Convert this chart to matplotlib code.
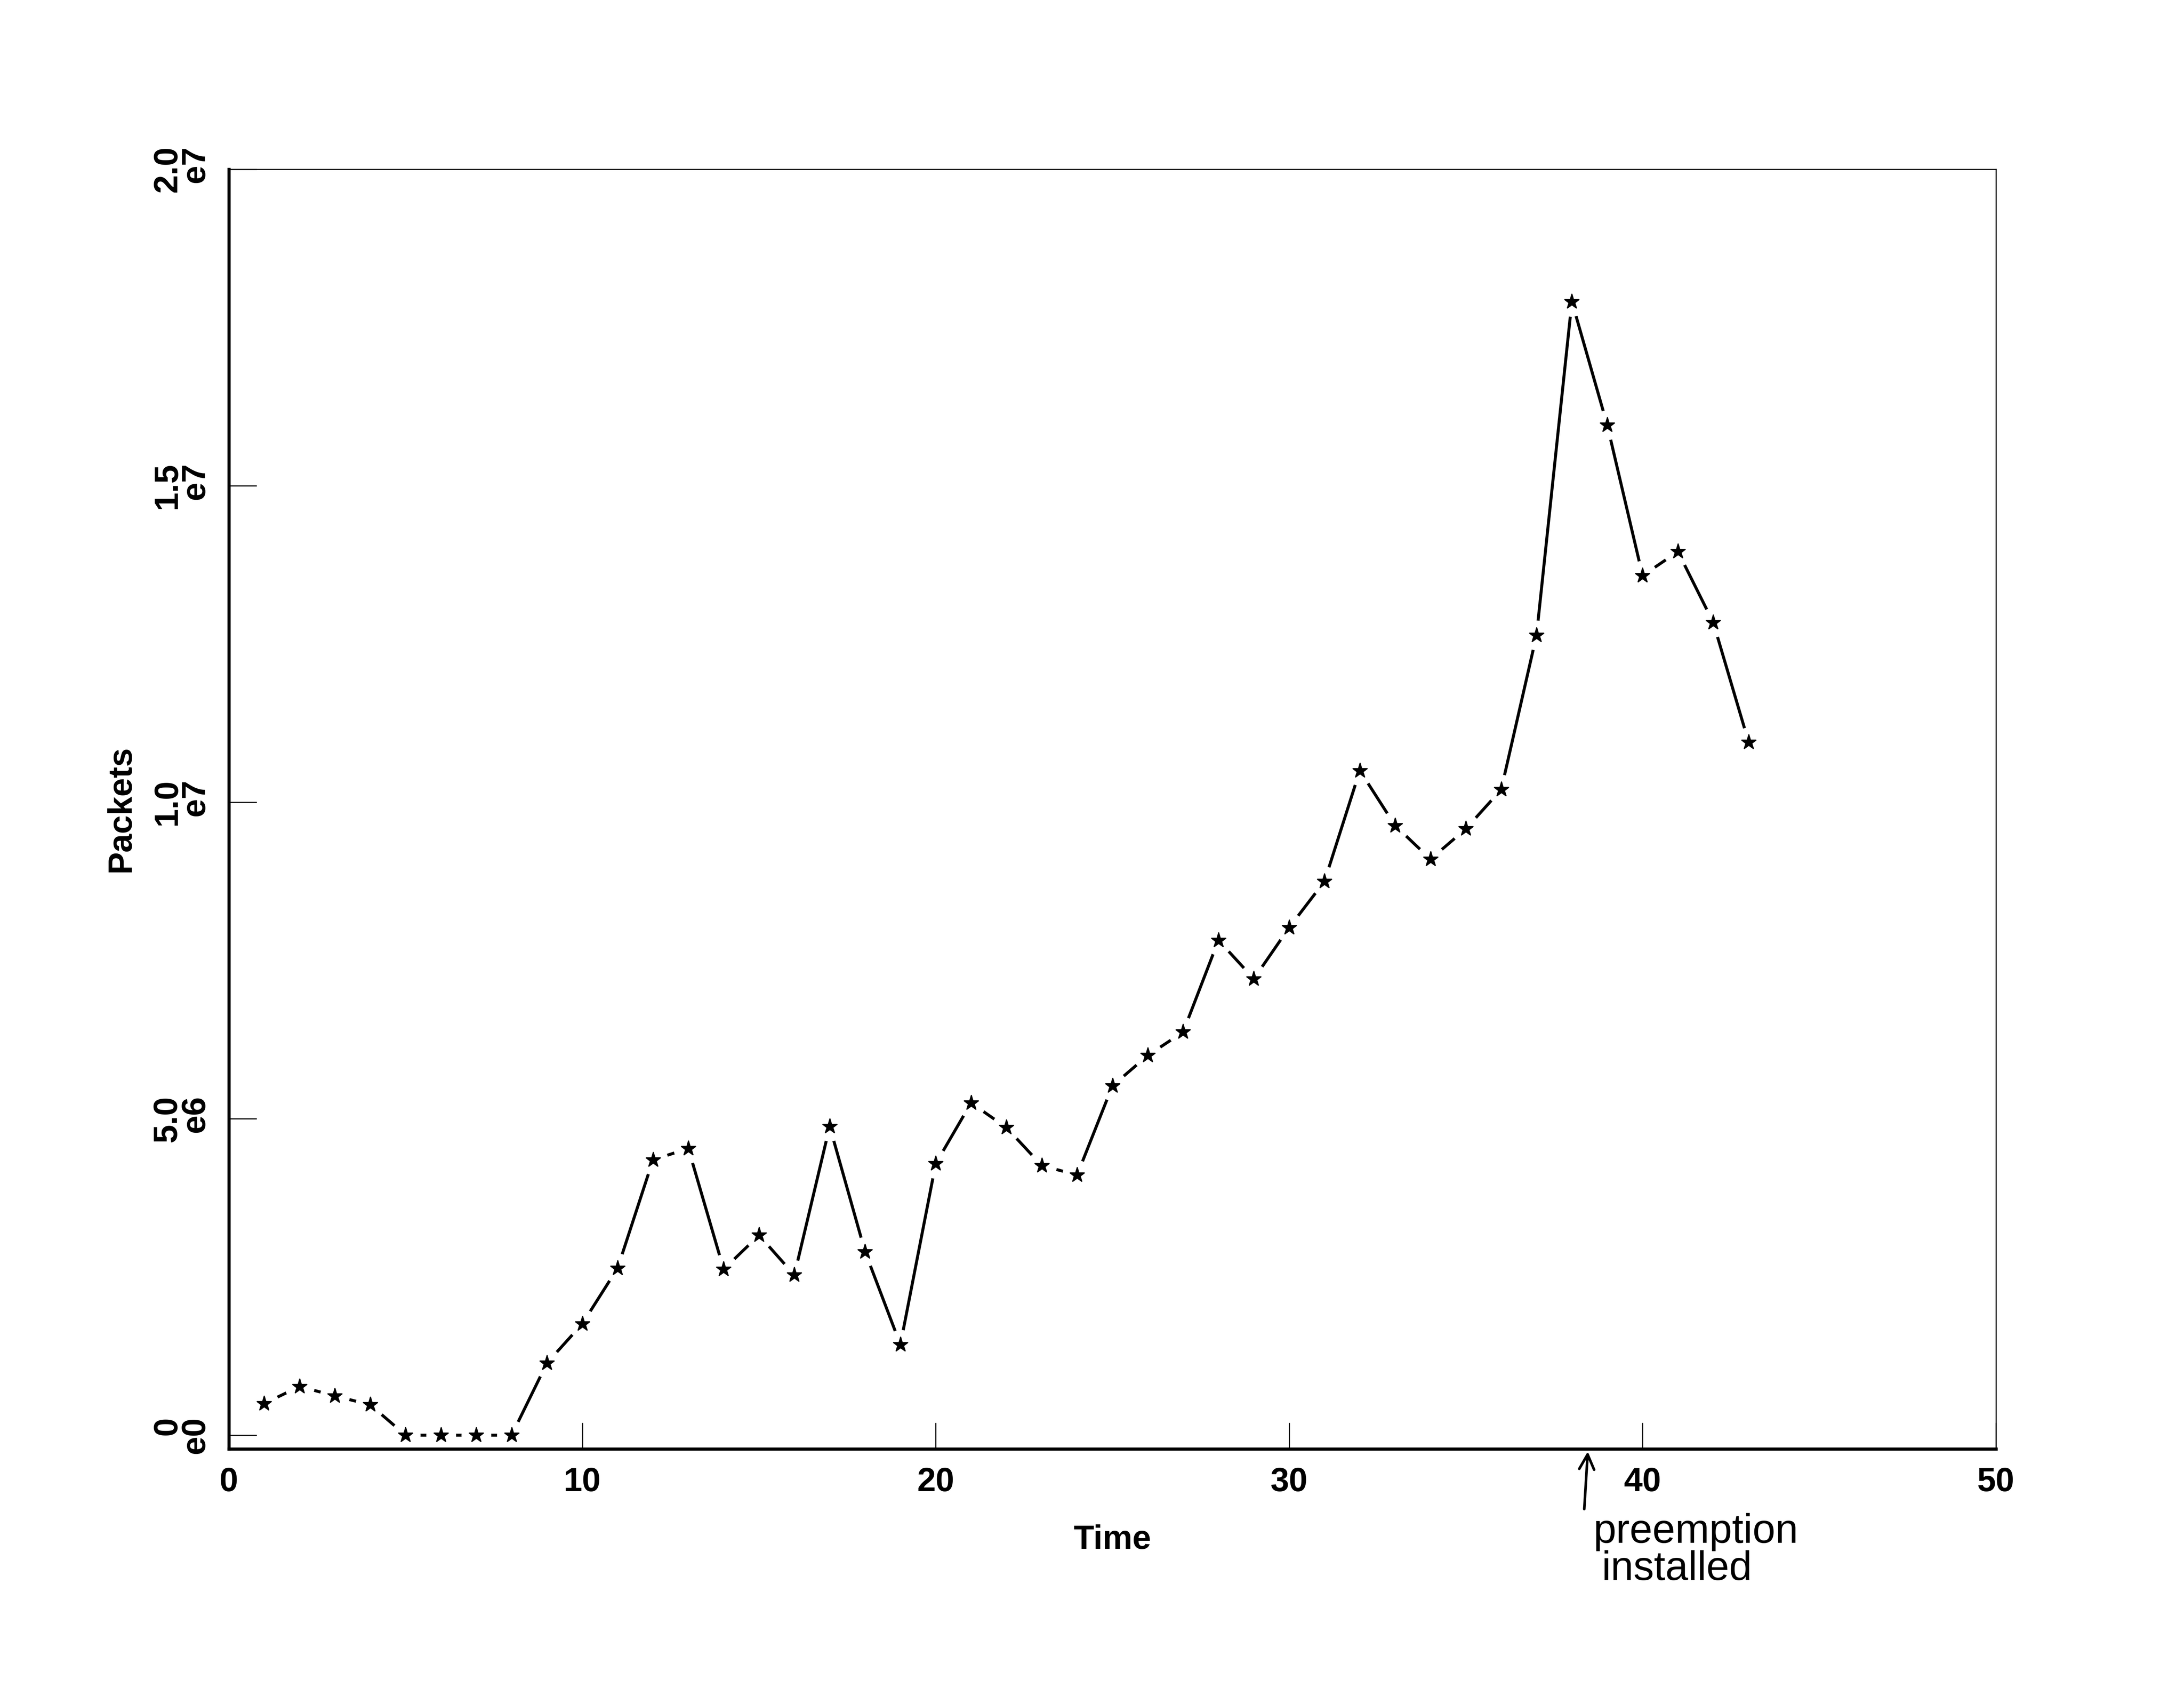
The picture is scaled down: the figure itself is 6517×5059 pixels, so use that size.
import matplotlib
matplotlib.use('Agg')
import matplotlib.pyplot as plt
import matplotlib.transforms as mtransforms

# ---- data ----
time = list(range(1, 44))
packets = [0.50e6, 0.77e6, 0.62e6, 0.48e6, 0.0, 0.0, 0.0, 0.0,
           1.14e6, 1.76e6, 2.64e6, 4.35e6, 4.53e6, 2.62e6, 3.16e6, 2.53e6,
           4.88e6, 2.90e6, 1.43e6, 4.29e6, 5.25e6, 4.86e6, 4.26e6, 4.11e6,
           5.52e6, 6.00e6, 6.37e6, 7.82e6, 7.21e6, 8.02e6, 8.75e6, 10.50e6,
           9.63e6, 9.10e6, 9.58e6, 10.20e6, 12.64e6, 17.91e6, 15.96e6, 13.58e6,
           13.96e6, 12.84e6, 10.95e6]
x_ticks = [0, 10, 20, 30, 40, 50]
x_tick_labels = ['0', '10', '20', '30', '40', '50']
y_ticks = [0, 5e6, 1e7, 1.5e7, 2e7]
y_tick_labels = ['0\ne0', '5.0\ne6', '1.0\ne7', '1.5\ne7', '2.0\ne7']
annot_x = 38.4
annot_line1 = 'preemption'
annot_line2 = 'installed'

plt.rcParams['font.family'] = ['Liberation Sans', 'DejaVu Sans']

W, H, DPI = 6517, 5059, 200
fig = plt.figure(figsize=(W / DPI, H / DPI), dpi=DPI)
fig.patch.set_facecolor('white')

left_px, right_px, top_px, bottom_px = 683, 5956, 505, 4322
ax = fig.add_axes([left_px / W, 1 - bottom_px / H,
                   (right_px - left_px) / W, (bottom_px - top_px) / H])

ax.plot(time, packets, color='black', lw=3.2, solid_capstyle='round', zorder=2.0)
ax.plot(time, packets, ls='none', marker='o', ms=31, mfc='white', mec='white', zorder=2.1)
ax.plot(time, packets, ls='none', marker='*', ms=17, color='black', zorder=2.2)

ax.set_xlim(0, 50)
ax.set_ylim(-2.17e5, 2e7)
ax.set_xticks(x_ticks)
ax.set_xticklabels(x_tick_labels, fontsize=36, fontweight='bold')
ax.set_yticks(y_ticks)
ax.set_yticklabels(y_tick_labels, fontsize=36, fontweight='bold',
                   rotation=90, va='center', linespacing=0.85)
ax.tick_params(direction='in', length=28, width=1.2, pad=19)
ax.tick_params(axis='y', length=30)

for s in ['top', 'right']:
    ax.spines[s].set_linewidth(1.2)
for s in ['left', 'bottom']:
    ax.spines[s].set_linewidth(3.4)
for s in ax.spines.values():
    s.set_zorder(3)

ax.set_xlabel('Time', fontsize=36, fontweight='bold', labelpad=28)
ax.set_ylabel('Packets', fontsize=36, fontweight='bold', labelpad=16)

trans = mtransforms.blended_transform_factory(ax.transData, ax.transAxes)
ax.annotate('', xy=(annot_x + 0.05, -0.002), xycoords=trans,
            xytext=(annot_x - 0.05, -0.047), textcoords=trans,
            arrowprops=dict(arrowstyle='->', lw=2.8, color='black',
                            mutation_scale=40, shrinkA=0, shrinkB=0),
            annotation_clip=False)
ax.text(annot_x + 0.2, -0.05, annot_line1, transform=trans, ha='left', va='top',
        fontsize=44, color='black', clip_on=False)
ax.text(annot_x + 0.45, -0.079, annot_line2, transform=trans, ha='left', va='top',
        fontsize=44, color='black', clip_on=False)

fig.savefig('out.png', dpi=DPI, facecolor='white')
